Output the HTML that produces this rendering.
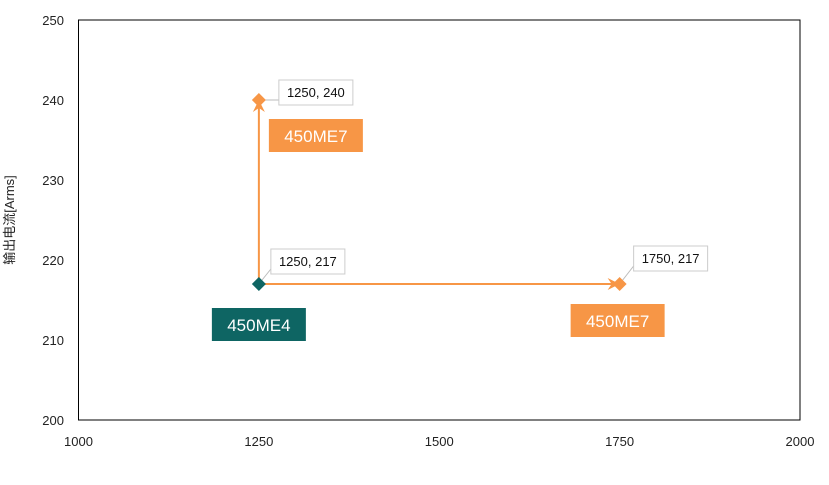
<!DOCTYPE html>
<html><head><meta charset="utf-8"><style>
body{margin:0;background:#fff;width:829px;height:480px;overflow:hidden}
svg text{font-family:"Liberation Sans","Noto Sans CJK SC",sans-serif}
</style></head><body>
<svg id="c" width="829" height="480"></svg>
<script>
const xTicks=[1000,1250,1500,1750,2000];
const yTicks=[200,210,220,230,240,250];
const ptX=[1250,1250,1750];
const ptY=[240,217,217];
const ptLabels=["1250, 240","1250, 217","1750, 217"];
const ptColors=["#f79646","#0e6563","#f79646"];
const seriesNames=["450ME7","450ME4","450ME7"];
const L=78.5,R=800,T=20,B=420;
const sx=v=>L+(v-1000)/(1000)*(R-L);
const sy=v=>B-(v-200)/50*(B-T);
const s=document.getElementById('c');
const NS='http://www.w3.org/2000/svg';
function mk(t,a,p){const e=document.createElementNS(NS,t);for(const k in a)e.setAttribute(k,a[k]);(p||s).appendChild(e);return e;}
let e=mk('rect',{x:L,y:T,width:R-L,height:B-T,fill:'none',stroke:'#000','stroke-width':1});


xTicks.forEach(v=>{const t=mk('text',{x:sx(v),y:446,'text-anchor':'middle','font-size':13,fill:'#222'});t.textContent=v;

});
yTicks.forEach(v=>{const t=mk('text',{x:64,y:sy(v)+5,'text-anchor':'end','font-size':13,fill:'#222'});t.textContent=v;

});
const yt=mk('text',{x:14,y:220,'text-anchor':'middle','font-size':13,fill:'#222',transform:'rotate(-90 14 220)'});yt.textContent='输出电流[Arms]';


const defs=mk('defs',{});
const m=mk('marker',{id:'ah',markerWidth:14,markerHeight:14,refX:9,refY:7,orient:'auto',markerUnits:'userSpaceOnUse'},defs);
mk('path',{d:'M0,1 L12,7 L0,13 L4,7 Z',fill:'#f79646'},m);
let a1=mk('line',{x1:sx(ptX[1]),y1:sy(ptY[1]),x2:sx(ptX[0]),y2:sy(ptY[0])+3,stroke:'#f79646','stroke-width':2,'marker-end':'url(#ah)'});


let a2=mk('line',{x1:sx(ptX[1]),y1:sy(ptY[1]),x2:sx(ptX[2])-3,y2:sy(ptY[2]),stroke:'#f79646','stroke-width':2,'marker-end':'url(#ah)'});


const lblOff=[[20,-20],[12,-35],[14,-38]];
const nameOff=[[10,19],[-47,24],[-49,20]];
ptX.forEach((v,i)=>{
 const x=sx(v),y=sy(ptY[i]);
 mk('line',{x1:x,y1:y,x2:x+lblOff[i][0],y2:y+lblOff[i][1]+20,stroke:'#bbb','stroke-width':1});
 const d=mk('path',{d:`M${x},${y-7} L${x+7},${y} L${x},${y+7} L${x-7},${y} Z`,fill:ptColors[i]});
 
 
 const bx=x+lblOff[i][0],by=y+lblOff[i][1];
 const r=mk('rect',{x:bx,y:by,width:74,height:25,fill:'#fff',stroke:'#ccc'});
 
 
 const t=mk('text',{x:bx+37,y:by+17,'text-anchor':'middle','font-size':13,fill:'#111'});t.textContent=ptLabels[i];
 
 
 const nx=x+nameOff[i][0],ny=y+nameOff[i][1];
 const nr=mk('rect',{x:nx,y:ny,width:94,height:33,fill:ptColors[i]});
 
 
 const nt=mk('text',{x:nx+47,y:ny+23,'text-anchor':'middle','font-size':17,fill:'#fff'});nt.textContent=seriesNames[i];
 
 
});
</script>
</body></html>
